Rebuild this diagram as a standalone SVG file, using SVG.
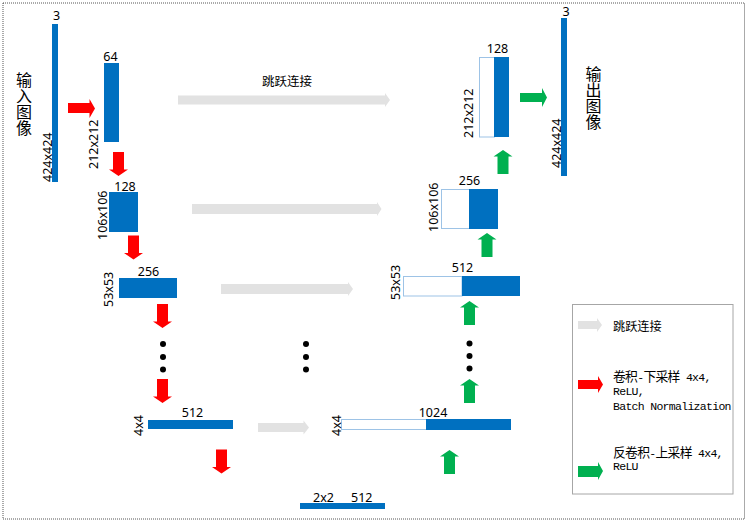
<svg xmlns="http://www.w3.org/2000/svg" width="749" height="522" viewBox="0 0 749 522">
<style>
.bar{fill:#0070C0;}
.hol{fill:#ffffff;stroke:#9DC3E6;stroke-width:1;}
.red{fill:#FF0000;}
.grn{fill:#00B050;}
.gry{fill:#E2E2E2;}
.dot{fill:#000000;}
.num{font-family:"Noto Sans","Open Sans","Liberation Sans",sans-serif;font-size:12.5px;fill:#000;}
.mid{text-anchor:middle;}
.cjk{font-family:"Noto Sans CJK SC","Noto Sans",sans-serif;font-size:12.5px;fill:#000;}
.big{font-family:"Noto Sans CJK SC","Noto Sans",sans-serif;font-size:16px;fill:#000;writing-mode:vertical-rl;text-anchor:start;}
.mono{font-family:"Liberation Mono","DejaVu Sans Mono",monospace;font-size:11.5px;letter-spacing:-0.7px;fill:#000;}
.mc{font-family:"Noto Sans CJK SC",sans-serif;font-size:12.8px;}
</style>
<defs>
<path id="down" d="M-5.5,0 H5.5 V17.5 H9.5 L0,24 L-9.5,17.5 H-5.5 Z"/>
<path id="up" d="M-5.5,24 H5.5 V6.5 H9.5 L0,0 L-9.5,6.5 H-5.5 Z"/>
</defs>
<rect x="3" y="3" width="741.5" height="516" fill="none" stroke="#555" stroke-width="1" stroke-dasharray="1,1"/>

<g id="input">
<rect class="bar" x="52" y="24" width="6" height="158"/>
<text class="num mid" x="56.5" y="20">3</text>
<text class="num" transform="translate(52,182) rotate(-90)">424x424</text>
<text class="big" x="24" y="71.5">输入图像</text>
</g>
<g id="enc1">
<rect class="bar" x="104" y="63" width="15" height="79"/>
<text class="num mid" x="110.5" y="60.5">64</text>
<text class="num" transform="translate(98,169) rotate(-90)">212x212</text>
</g>
<g id="enc2">
<rect class="bar" x="109" y="192" width="29" height="40"/>
<text class="num mid" x="125" y="191">128</text>
<text class="num" transform="translate(107,240) rotate(-90)">106x106</text>
</g>
<g id="enc3">
<rect class="bar" x="119" y="278" width="58" height="20"/>
<text class="num mid" x="148.5" y="276">256</text>
<text class="num" transform="translate(113,307) rotate(-90)">53x53</text>
</g>
<g id="enc4">
<rect class="bar" x="148" y="420" width="85" height="9"/>
<text class="num mid" x="192.5" y="417">512</text>
<text class="num" transform="translate(143,436) rotate(-90)">4x4</text>
</g>
<g id="bottleneck">
<rect class="bar" x="300" y="503" width="85" height="6"/>
<text class="num" x="313" y="502">2x2</text>
<text class="num" x="351" y="502">512</text>
</g>
<g id="dec4">
<rect class="hol" x="341.5" y="419.5" width="85" height="10"/>
<rect class="bar" x="426" y="419" width="85" height="11"/>
<text class="num mid" x="433" y="417">1024</text>
<text class="num" transform="translate(341,436) rotate(-90)">4x4</text>
</g>
<g id="dec3">
<rect class="hol" x="403.5" y="276.5" width="58.5" height="19.5"/>
<rect class="bar" x="462" y="276" width="58" height="20"/>
<text class="num mid" x="462.5" y="271.5">512</text>
<text class="num" transform="translate(400,300) rotate(-90)">53x53</text>
</g>
<g id="dec2">
<rect class="hol" x="441.5" y="189.5" width="28" height="39"/>
<rect class="bar" x="469" y="189" width="29" height="40"/>
<text class="num mid" x="469.5" y="185">256</text>
<text class="num" transform="translate(438,232) rotate(-90)">106x106</text>
</g>
<g id="dec1">
<rect class="hol" x="479.5" y="57.5" width="15" height="79.5"/>
<rect class="bar" x="494" y="57" width="15" height="80"/>
<text class="num mid" x="497.5" y="53">128</text>
<text class="num" transform="translate(473,138) rotate(-90)">212x212</text>
</g>
<g id="output">
<rect class="bar" x="561" y="18" width="6" height="158"/>
<text class="num mid" x="566" y="15.5">3</text>
<text class="num" transform="translate(561,168) rotate(-90)">424x424</text>
<text class="big" x="593.5" y="65.5">输出图像</text>
</g>

<g id="connectors">
<path class="red" d="M68,103 H89.5 V99 L95,108.5 L89.5,118 V113 H68 Z"/>
<use href="#down" class="red" transform="translate(118.5,152)"/>
<use href="#down" class="red" transform="translate(133.5,235.5)"/>
<use href="#down" class="red" transform="translate(162.5,304)"/>
<use href="#down" class="red" transform="translate(162.5,379)"/>
<use href="#down" class="red" transform="translate(221.5,449.5)"/>

<use href="#up" class="grn" transform="translate(449.5,450)"/>
<use href="#up" class="grn" transform="translate(469.5,379)"/>
<use href="#up" class="grn" transform="translate(469.5,301)"/>
<use href="#up" class="grn" transform="translate(487,233)"/>
<use href="#up" class="grn" transform="translate(503,150)"/>
<path class="grn" d="M520,93 H542 V88 L547,97.5 L542,107 V102 H520 Z"/>

<path class="gry" d="M178,95.5 H385 V93 L390,100 L385,107 V104.5 H178 Z"/>
<path class="gry" d="M192,204 H377 V202 L381.5,209 L377,216 V214 H192 Z"/>
<path class="gry" d="M221,284 H348 V282 L353,289 L348,296 V294 H221 Z"/>
<path class="gry" d="M258,423 H303.5 V420.5 L309,427.5 L303.5,434.5 V432 H258 Z"/>
<text class="cjk mid" x="287" y="86">跳跃连接</text>

<circle class="dot" cx="163" cy="344" r="3"/>
<circle class="dot" cx="163" cy="357" r="3"/>
<circle class="dot" cx="163" cy="369.5" r="3"/>
<circle class="dot" cx="306" cy="344" r="3"/>
<circle class="dot" cx="306" cy="357" r="3"/>
<circle class="dot" cx="306" cy="369.5" r="3"/>
<circle class="dot" cx="469.5" cy="343.5" r="3"/>
<circle class="dot" cx="469.5" cy="356" r="3"/>
<circle class="dot" cx="469.5" cy="368.5" r="3"/>
</g>

<g id="legend">
<rect x="572.5" y="304.5" width="160.5" height="189.5" fill="#ffffff" stroke="#A6A6A6" stroke-width="1"/>
<path class="gry" d="M578,321 H597 V318 L602,325 L597,332 V329 H578 Z"/>
<text class="cjk" x="613" y="331" style="font-size:12.2px">跳跃连接</text>
<path class="red" d="M578,380 H598 V376 L603,384.5 L598,393 V389 H578 Z"/>
<text class="mono" x="613" y="381"><tspan class="mc">卷积</tspan>-<tspan class="mc">下采样</tspan> 4x4,</text>
<text class="mono" x="613" y="395">ReLU,</text>
<text class="mono" x="613" y="409.5">Batch Normalization</text>
<path class="grn" d="M578,466 H598 V462 L603,471 L598,480 V477 H578 Z"/>
<text class="mono" x="613" y="457"><tspan class="mc">反卷积</tspan>-<tspan class="mc">上采样</tspan> 4x4,</text>
<text class="mono" x="613" y="470">ReLU</text>
</g>
</svg>
